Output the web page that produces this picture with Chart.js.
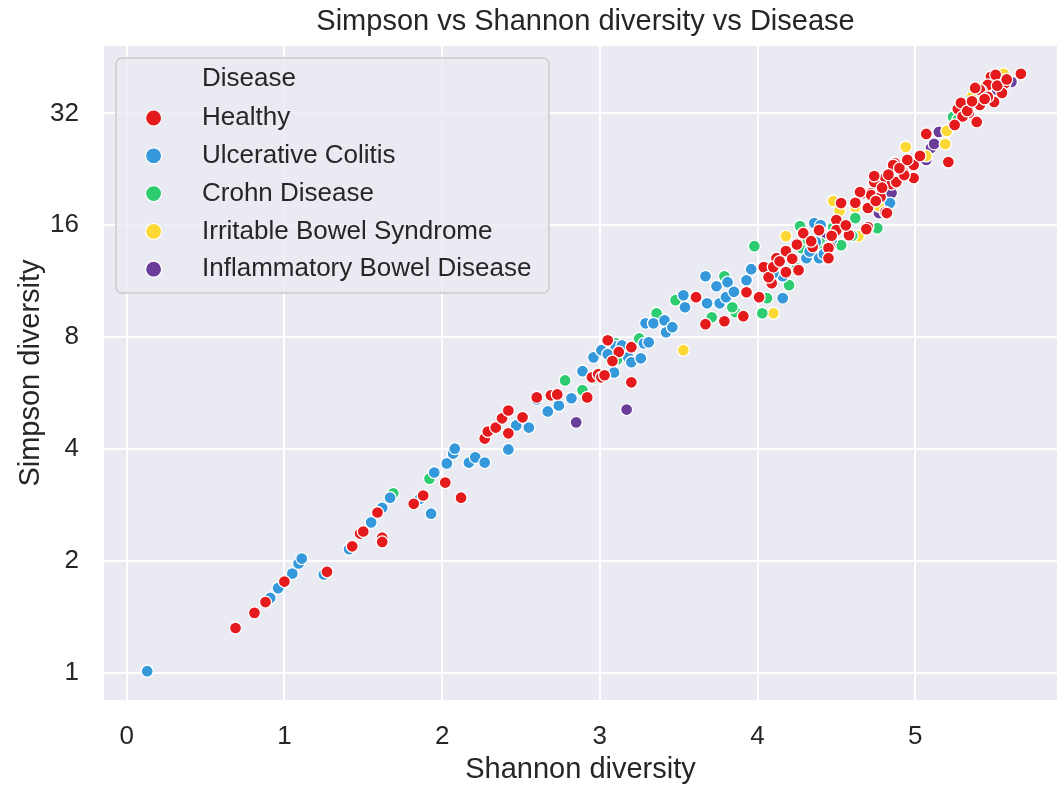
<!DOCTYPE html>
<html>
<head>
<meta charset="utf-8">
<script src="https://cdn.jsdelivr.net/npm/chart.js@4.4.0/dist/chart.umd.min.js"></script>
<style>
html,body{margin:0;padding:0;background:#ffffff;}
#wrap{width:1057px;height:787px;}
</style>
</head>
<body>
<div id="wrap"><canvas id="c" width="1057" height="787"></canvas></div>
<script>
// ---------------- data ----------------
const chartTitle = 'Simpson vs Shannon diversity vs Disease';
const xTitle = 'Shannon diversity';
const yTitle = 'Simpson diversity';
const legendTitle = 'Disease';
const categories = ['Healthy', 'Ulcerative Colitis', 'Crohn Disease', 'Irritable Bowel Syndrome', 'Inflammatory Bowel Disease'];
const xTicks = [0, 1, 2, 3, 4, 5];
const yTicks = [1, 2, 4, 8, 16, 32];

const healthyShannon = [0.69,0.81,0.88,1.00,1.27,1.43,1.48,1.50,1.59,1.62,1.62,1.82,1.88,2.02,2.12,2.27,2.29,2.34,2.38,2.42,2.51,2.42,2.60,2.69,2.73,2.92,2.95,2.99,3.01,3.03,3.05,3.20,3.20,3.61,3.67,3.79,3.91,4.09,4.04,4.07,3.93,4.01,4.12,4.18,4.18,4.26,4.29,4.46,4.50,4.50,4.53,4.67,4.72,4.70,4.81,4.74,4.72,4.65,4.70,4.81,4.69,4.58,4.10,4.39,4.45,4.45,5.07,5.21,4.87,4.99,4.93,4.74,4.85,4.99,4.78,4.86,4.88,4.82,4.93,5.67,5.57,5.55,5.48,5.46,5.42,5.50,5.41,5.34,5.39,5.27,5.32,5.29,5.51,5.41,5.46,5.38,
  4.22,4.25,4.35,4.47,4.56,4.75,4.79,4.83,4.90,4.95,5.03,5.30,5.33,5.36,5.44,5.52,5.58,3.12,3.08,4.62,4.34,4.14,5.25];
const healthySimpson = [1.32,1.45,1.55,1.76,1.87,2.19,2.37,2.40,2.70,2.31,2.25,2.85,3.00,3.25,2.96,4.27,4.46,4.57,4.84,5.08,4.87,4.41,5.51,5.58,5.61,5.51,6.24,6.36,6.24,6.32,7.85,6.05,7.52,10.25,8.67,8.83,9.11,11.18,12.35,11.60,10.57,10.25,13.05,13.64,11.97,12.12,15.24,13.98,16.53,15.53,18.37,19.54,19.54,15.82,21.45,20.92,19.30,19.66,17.81,17.37,15.63,15.06,12.35,15.53,13.89,13.05,28.18,23.69,23.54,23.25,22.12,21.72,20.66,21.45,19.06,23.25,20.92,17.26,21.85,40.90,38.67,36.35,40.14,38.19,36.79,34.37,33.73,32.10,30.36,32.90,33.73,34.16,40.64,37.02,35.46,37.48,
  13.00,14.20,14.00,15.00,16.00,18.60,20.20,21.90,22.80,24.00,24.60,31.40,32.50,34.50,35.00,38.00,39.50,7.30,6.90,18.40,14.50,12.80,29.80];

const ucShannon = [0.13,0.91,0.96,1.05,1.09,1.11,1.25,1.41,1.55,1.62,1.67,1.86,1.93,1.95,2.03,2.07,2.08,2.17,2.21,2.27,2.42,2.47,2.55,2.60,2.67,2.74,2.82,2.89,2.96,3.01,3.09,3.10,3.18,3.20,3.26,3.28,3.31,3.29,3.34,3.41,3.42,3.46,3.53,3.54,3.67,3.74,3.81,3.68,3.76,3.80,3.93,3.96,4.16,4.16,4.31,4.37,4.36,4.40,4.39,4.84,
  3.05,3.14,4.33,4.42,4.45,4.10,3.85,4.47];
const ucSimpson = [1.01,1.59,1.69,1.85,1.97,2.03,1.84,2.15,2.54,2.78,2.96,2.94,2.68,3.46,3.66,3.89,4.01,3.68,3.80,3.68,3.99,4.63,4.57,5.44,5.05,5.24,5.48,6.48,7.06,7.38,6.43,7.56,7.06,6.85,7.02,7.70,7.75,8.72,8.72,8.88,8.25,8.51,10.37,9.63,11.67,10.97,11.25,9.87,9.87,10.25,11.38,12.19,11.67,10.19,13.05,14.42,16.22,16.02,13.05,18.37,
  7.20,7.60,13.60,13.40,14.00,11.90,10.60,14.60];

const crohnShannon = [1.69,1.92,2.78,2.89,2.96,3.06,3.11,3.10,3.25,3.36,3.48,3.71,3.79,3.86,3.84,4.03,4.06,3.98,4.20,4.25,4.28,4.27,4.53,4.62,4.76,5.24,
  4.32,4.40,4.48,4.60,5.27,3.02];
const crohnSimpson = [3.04,3.33,6.12,5.76,6.20,7.06,6.97,7.70,7.94,9.28,10.06,9.05,11.67,9.34,9.63,9.28,10.19,14.06,11.04,12.27,13.89,15.92,14.15,16.73,15.72,31.32,
  14.60,14.30,15.80,15.00,30.80,7.30];

const ibsShannon = [3.53,4.10,4.18,4.48,4.62,4.64,4.94,5.07,5.19,5.20,5.36,5.56,4.52,4.77,4.86,5.44,5.50];
const ibsSimpson = [7.38,9.28,14.96,18.60,17.91,14.96,25.99,24.59,26.48,28.71,35.46,40.90,17.50,18.00,21.00,37.80,39.50];

const ibdShannon = [2.85,3.17,4.44,4.77,4.85,5.10,5.15,5.07,5.61,5.12,5.52];
const ibdSimpson = [4.72,5.11,14.78,17.26,19.54,25.84,28.53,23.98,38.91,26.50,37.00];

// ---------------- styling ----------------
const palette = ['#e41a1c', '#3498db', '#2ecc71', '#fdd835', '#6a3d9a'];
const FONT = '"Liberation Sans", Arial, Helvetica, sans-serif';
const TEXT = '#262626';

function pts(xs, ys) { return xs.map((x, i) => ({ x: x, y: ys[i] })); }
const series = [
  pts(healthyShannon, healthySimpson),
  pts(ucShannon, ucSimpson),
  pts(crohnShannon, crohnSimpson),
  pts(ibsShannon, ibsSimpson),
  pts(ibdShannon, ibdSimpson)
];

const datasets = categories.map((name, i) => ({
  label: name,
  data: series[i],
  backgroundColor: palette[i],
  borderColor: '#ffffff',
  borderWidth: 1.3,
  pointRadius: 6,
  pointHoverRadius: 6,
  pointStyle: 'circle'
}));

const bgPlugin = {
  id: 'plotBg',
  beforeDraw(chart) {
    const a = chart.chartArea, ctx = chart.ctx;
    ctx.save();
    ctx.fillStyle = '#eaeaf2';
    ctx.fillRect(a.left, a.top, a.right - a.left, a.bottom - a.top);
    ctx.restore();
  },
  afterLayout(chart) {
    const t = chart.titleBlock;
    if (t) { t.left = chart.chartArea.left + 5; t.right = chart.chartArea.right + 5; t.width = t.right - t.left; }
  }
};

const legendPlugin = {
  id: 'sbLegend',
  afterDatasetsDraw(chart) {
    const ctx = chart.ctx, a = chart.chartArea;
    const x0 = a.left + 12, y0 = a.top + 12, w = 433, h = 235, r = 6;
    ctx.save();
    ctx.beginPath();
    ctx.moveTo(x0 + r, y0);
    ctx.arcTo(x0 + w, y0, x0 + w, y0 + h, r);
    ctx.arcTo(x0 + w, y0 + h, x0, y0 + h, r);
    ctx.arcTo(x0, y0 + h, x0, y0, r);
    ctx.arcTo(x0, y0, x0 + w, y0, r);
    ctx.closePath();
    ctx.fillStyle = 'rgba(234,234,242,0.8)';
    ctx.fill();
    ctx.lineWidth = 1.5;
    ctx.strokeStyle = '#cccccc';
    ctx.stroke();
    ctx.font = '26px ' + FONT;
    ctx.fillStyle = TEXT;
    ctx.textBaseline = 'middle';
    ctx.textAlign = 'left';
    const tx = x0 + 86, mx = x0 + 37.6;
    ctx.fillText(legendTitle, tx, y0 + 21);
    chart.data.datasets.forEach((ds, i) => {
      const y = y0 + 60 + i * 37.8;
      ctx.beginPath();
      ctx.arc(mx, y, 8, 0, Math.PI * 2);
      ctx.fillStyle = ds.backgroundColor;
      ctx.fill();
      ctx.lineWidth = 1.2;
      ctx.strokeStyle = '#ffffff';
      ctx.stroke();
      ctx.fillStyle = TEXT;
      ctx.fillText(ds.label, tx, y);
    });
    ctx.restore();
  }
};

new Chart(document.getElementById('c'), {
  type: 'scatter',
  data: { datasets: datasets },
  plugins: [bgPlugin, legendPlugin],
  options: {
    responsive: false,
    animation: false,
    devicePixelRatio: 1,
    layout: { autoPadding: false, padding: { left: 0, right: 0, top: 0, bottom: 0 } },
    plugins: {
      legend: { display: false },
      tooltip: { enabled: false },
      title: {
        display: true,
        text: chartTitle,
        color: TEXT,
        font: { family: FONT, size: 29, weight: 'normal' },
        padding: { top: 5, bottom: 6.2 }
      }
    },
    scales: {
      x: {
        type: 'linear',
        min: -0.144,
        max: 5.899,
        border: { display: false },
        grid: { color: '#ffffff', lineWidth: 2, drawTicks: false },
        afterBuildTicks(scale) { scale.ticks = xTicks.map(v => ({ value: v })); },
        afterFit(scale) { scale.height = 87; scale.paddingLeft = 0; scale.paddingRight = 0; },
        ticks: {
          color: TEXT,
          font: { family: FONT, size: 26 },
          padding: 21,
          callback: v => String(v)
        },
        title: {
          display: true,
          text: xTitle,
          color: TEXT,
          font: { family: FONT, size: 29 },
          padding: { top: 0, bottom: 0 }
        }
      },
      y: {
        type: 'logarithmic',
        min: 0.845,
        max: 48.6,
        border: { display: false },
        grid: { color: '#ffffff', lineWidth: 2, drawTicks: false },
        afterBuildTicks(scale) { scale.ticks = yTicks.map(v => ({ value: v })); },
        afterFit(scale) { scale.width = 104; scale.paddingTop = 0; scale.paddingBottom = 0; },
        ticks: {
          color: TEXT,
          font: { family: FONT, size: 26 },
          padding: 25,
          callback: v => String(v)
        },
        title: {
          display: true,
          text: yTitle,
          color: TEXT,
          font: { family: FONT, size: 29 },
          padding: { top: 13.6, bottom: 0 }
        }
      }
    }
  }
});
</script>
</body>
</html>
